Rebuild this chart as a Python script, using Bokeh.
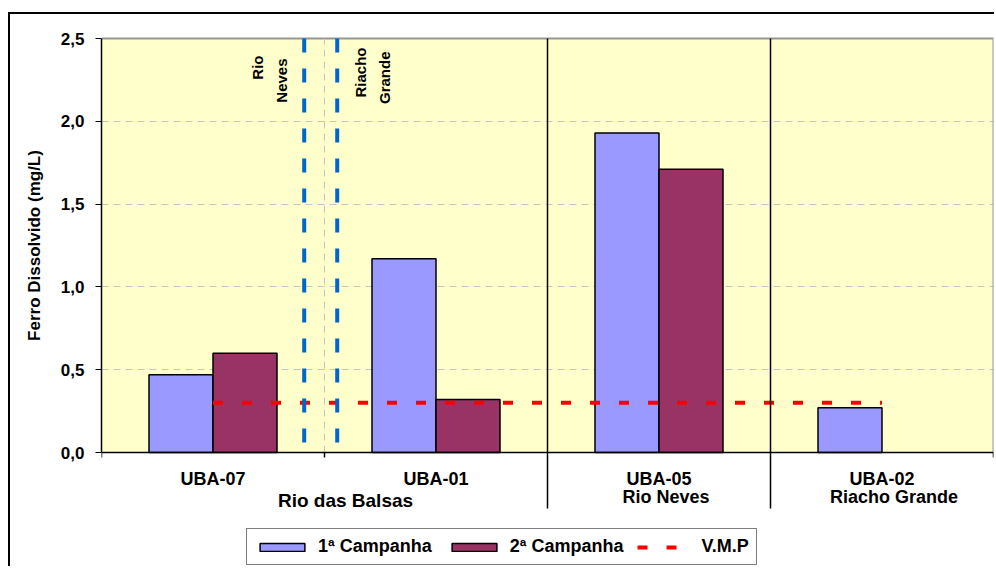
import math

from bokeh.core.properties import value
from bokeh.embed import file_html
from bokeh.models import (BoxAnnotation, ColumnDataSource, CustomJSTickFormatter,
                          FixedTicker, Legend, LegendItem, Range1d, Title)
from bokeh.plotting import figure
from bokeh.resources import INLINE

# ---------------------------------------------------------------- data
stations = ["UBA-07", "UBA-01", "UBA-05", "UBA-02"]
rivers = ["Rio das Balsas", "Rio das Balsas", "Rio Neves", "Riacho Grande"]
campanha_1 = [0.47, 1.17, 1.93, 0.27]
campanha_2 = [0.60, 0.32, 1.71, float("nan")]
vmp = 0.3                                   # valor máximo permitido (mg/L)
y_ticks = [0.0, 0.5, 1.0, 1.5, 2.0, 2.5]
series_names = ["1ª Campanha", "2ª Campanha", "V.M.P"]
y_title = "Ferro Dissolvido (mg/L)"

# confluences of the tributaries along the Rio das Balsas stretch (category units)
confluence_x = [0.909, 1.057]
confluence_names = [["Rio", "Neves"], ["Riacho", "Grande"]]

# ---------------------------------------------------------------- page geometry (px)
PAGE_W, PAGE_H = 996, 568
FIG_X, FIG_Y = 10, 14                     # figure origin inside the framed chart area
PLOT_L, PLOT_R, PLOT_T, PLOT_B = 101, 993, 38, 452
FRAME_T = 30

n = len(stations)
px_cat = (PLOT_R - PLOT_L) / n
px_unit = (PLOT_B - PLOT_T) / y_ticks[-1]


def yv(py):
    """page pixel row -> value on the concentration scale"""
    return (PLOT_B - py) / px_unit


FONT = value("Liberation Sans")
BAR_W = 0.287
TITLE_PX = 17

p = figure(
    width=PAGE_W - FIG_X, height=PAGE_H - FIG_Y,
    x_range=Range1d(0, n), y_range=Range1d(yv(PAGE_H), yv(FRAME_T)),
    x_axis_location=None,
    output_backend="svg", toolbar_location=None,
    min_border_left=PLOT_L - FIG_X, min_border_right=PAGE_W - PLOT_R,
    min_border_top=FRAME_T - FIG_Y, min_border_bottom=0,
    background_fill_color="white", border_fill_color="white",
    outline_line_color=None,
    margin=(FIG_Y - 2, 0, 0, FIG_X - 2),
    styles={"border-left": "2px solid #000", "border-top": "2px solid #000"},
)

# pale yellow plot area
p.add_layout(BoxAnnotation(bottom=0, top=y_ticks[-1], fill_color="#FFFFCC",
                           fill_alpha=1, line_color=None, level="image"))

# y axis
ya = p.yaxis[0]
ya.ticker = FixedTicker(ticks=y_ticks)
ya.bounds = (0, y_ticks[-1])
ya.formatter = CustomJSTickFormatter(code="return tick.toFixed(1).replace('.', ',');")
ya.major_tick_out = 6
ya.major_tick_in = 0
ya.minor_tick_line_color = None
ya.axis_line_color = "black"
ya.axis_line_width = 1.5
ya.major_tick_line_color = "black"
ya.major_label_standoff = 11
ya.major_label_text_font = "Liberation Sans"
ya.major_label_text_font_size = "17px"
ya.major_label_text_font_style = "bold"
ya.major_label_text_color = "black"

# axis title, centred on the 0 - 2,5 span of the value axis
title_len = 11.224 * TITLE_PX               # Arial-metric bold advance of the title
centre_py = (PLOT_T + PLOT_B) / 2
p.add_layout(Title(text=y_title, align="right", vertical_align="middle",
                   offset=centre_py - FRAME_T - title_len / 2, standoff=26,
                   text_font="Liberation Sans", text_font_size=f"{TITLE_PX}px",
                   text_font_style="bold", text_color="black"), "left")

p.ygrid.ticker = FixedTicker(ticks=y_ticks[1:-1])
p.ygrid.grid_line_color = "#c4c4c4"
p.ygrid.grid_line_dash = "7 5"
p.xgrid.visible = False

# plot-area border (top / right) and dashed boundary inside the first group
p.line(x=[0, n, n], y=[y_ticks[-1], y_ticks[-1], 0], line_color="#969696", line_width=2)
p.segment(x0=[1], y0=[0], x1=[1], y1=[y_ticks[-1]], line_color="#c4c4c4",
          line_width=1, line_dash="7 5")

# bars
centers = [i + 0.5 for i in range(n)]
src = ColumnDataSource(dict(
    x1=[c - BAR_W / 2 for c in centers], x2=[c + BAR_W / 2 for c in centers],
    c1=campanha_1, c2=campanha_2))
r1 = p.vbar(x="x1", top="c1", bottom=0, width=BAR_W, source=src,
            fill_color="#9999FF", line_color="black", line_width=1.5)
r2 = p.vbar(x="x2", top="c2", bottom=0, width=BAR_W, source=src,
            fill_color="#993366", line_color="black", line_width=1.5)

# limit line
rv = p.line(x=[centers[0], centers[-1]], y=[vmp, vmp], line_color="#FF0000",
            line_width=4, line_dash="10 19")

# tributary confluence markers
p.segment(x0=confluence_x, y0=[y_ticks[-1]] * 2, x1=confluence_x, y1=[0, 0],
          line_color="#0066CC", line_width=4, line_dash="14 16")
conf_src = ColumnDataSource(dict(
    x=[confluence_x[0], confluence_x[0], confluence_x[1], confluence_x[1]],
    y=[y_ticks[-1]] * 4,
    text=[w for pair in confluence_names for w in pair],
    dx=[-47, -23, 23, 47],
    dy=[17, 20, 9, 13]))
p.text(x="x", y="y", text="text", x_offset="dx", y_offset="dy", source=conf_src,
       angle=math.pi / 2, text_align="right", text_baseline="middle",
       text_font=FONT, text_font_size="15px", text_font_style="bold", text_color="black")

# category axis: line, short ticks, river separators
p.segment(x0=[0], y0=[0], x1=[n], y1=[0], line_color="black", line_width=1.5)
group_edges = [i for i in range(1, n) if rivers[i] != rivers[i - 1]]
short_ticks = [i for i in range(n + 1) if i not in group_edges]
p.segment(x0=short_ticks, y0=[0] * len(short_ticks), x1=short_ticks,
          y1=[yv(457)] * len(short_ticks), line_color="black", line_width=1.5)
p.segment(x0=group_edges, y0=[y_ticks[-1]] * len(group_edges), x1=group_edges,
          y1=[yv(508)] * len(group_edges), line_color="black", line_width=1.5)

# category labels
p.text(x=centers, y=[yv(478)] * n, text=stations, text_align="center",
       text_baseline="middle", text_font=FONT, text_font_size="18px",
       text_font_style="bold", text_color="black")
single = [i for i in range(n) if rivers.count(rivers[i]) == 1]
p.text(x=[centers[i] for i in single], y=[yv(496.5)] * len(single),
       text=[rivers[i] for i in single], x_offset=[7, 12][:len(single)],
       text_align="center", text_baseline="middle", text_font=FONT,
       text_font_size="18px", text_font_style="bold", text_color="black")
shared = [i for i in range(n) if rivers.count(rivers[i]) > 1]
p.text(x=[sum(centers[i] for i in shared) / len(shared)], y=[yv(500)],
       text=[rivers[shared[0]]], x_offset=[21], text_align="center",
       text_baseline="middle", text_font=FONT, text_font_size="19px",
       text_font_style="bold", text_color="black")

legend = Legend(
    items=[LegendItem(label=series_names[0], renderers=[r1]),
           LegendItem(label=series_names[1], renderers=[r2]),
           LegendItem(label=series_names[2], renderers=[rv])],
    orientation="horizontal", location=(246 - PLOT_L, 3),
    glyph_width=56, glyph_height=10, label_standoff=8, spacing=14, padding=7,
    margin=0, label_height=20,
    border_line_color="black", border_line_width=1,
    background_fill_color="white", background_fill_alpha=1,
    label_text_font="Liberation Sans", label_text_font_size="18px",
    label_text_font_style="bold", label_text_color="black")
p.add_layout(legend)

open("out.html", "w").write(file_html(p, INLINE))
